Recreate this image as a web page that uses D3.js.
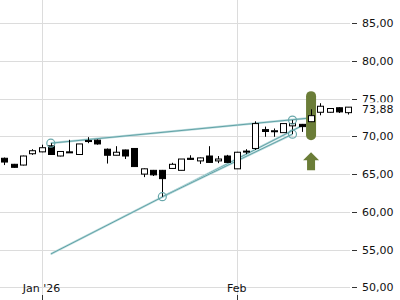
<!DOCTYPE html>
<html>
<head>
<meta charset="utf-8">
<script src="https://cdn.jsdelivr.net/npm/d3@7"></script>
<style>
  body { margin: 0; background: #fff; }
  svg { display: block; font-family: "DejaVu Sans", sans-serif; }
</style>
</head>
<body>
<script>
// trading day index, 0 = first session of Jan 2026
var days = d3.range(-4, 34)

var opens  = [67.1, 66.3, 66.2, 67.7, 67.95, 68.75, 67.4, 67.95, 67.6, 69.35, 69.5, 68.3, 67.5, 68.2, 68.4, 65.0, 65.5, 65.5, 65.75, 65.5, 67.1, 66.75, 67.4, 66.75, 67.4, 65.7, 67.95, 68.4, 70.9, 70.65, 70.5, 71.4, 71.6, 71.95, 73.2, 73.2, 73.8, 73.15]
var highs  = [67.2, 66.35, 67.45, 68.3, 68.9, 69.1, 68.05, 69.55, 69.0, 69.9, 69.6, 68.4, 68.7, 68.25, 68.45, 65.75, 65.55, 65.55, 66.5, 67.0, 67.5, 67.2, 68.7, 67.4, 67.55, 67.95, 68.3, 72.0, 71.3, 71.05, 71.75, 72.16, 71.65, 73.6, 74.4, 73.75, 73.85, 73.9]
var lows   = [66.2, 65.85, 66.15, 67.55, 67.9, 67.55, 67.35, 67.85, 67.6, 69.1, 68.9, 66.4, 67.5, 67.0, 66.0, 64.6, 64.75, 62.0, 65.7, 65.5, 66.9, 66.35, 66.5, 66.45, 66.5, 65.7, 67.65, 68.2, 69.95, 69.95, 70.5, 70.3, 70.6, 71.9, 72.8, 73.15, 73.1, 72.9]
var closes = [66.6, 65.9, 67.4, 68.1, 68.5, 67.6, 68.0, 67.85, 69.0, 69.45, 69.0, 67.5, 67.9, 67.4, 66.0, 65.7, 64.9, 64.4, 66.3, 67.0, 66.95, 67.15, 66.55, 67.0, 66.55, 67.9, 68.05, 71.7, 70.65, 70.75, 71.7, 71.7, 71.3, 72.75, 74.0, 73.7, 73.25, 73.88]

var yTicks = [50, 55, 60, 65, 70, 75, 80, 85]
var monthTicks = [0, 21]
var monthLabels = ["Jan '26", "Feb"]
var lastPrice = 73.88

// trend lines: [day, value] pairs
var trendUpper = [[1, 69.1], [29, 72.45]]
var trendLowA = [[1, 54.4], [28, 71.4]]
var trendLowB = [[13, 62.0], [27, 70.3]]
var anchors = [[1, 69.1], [13, 62.0], [27, 72.16], [27, 70.3]]

// signal marker
var signalDay = 29
var signalRange = [69.5, 76.0]

var width = 400, height = 300
var svg = d3.select("body").append("svg")
  .attr("width", width).attr("height", height)

var x = d3.scaleLinear().domain([0, 21]).range([41.5, 236.7])
var y = d3.scaleLinear().domain([50, 85]).range([287.2, 23.3])
var plotRight = 350

var candles = days.map(function(d, i) {
  return {d: d, o: opens[i], h: highs[i], l: lows[i], c: closes[i]}
})

// grid
svg.append("g").selectAll("line")
  .data(yTicks).enter().append("line")
  .attr("x1", 0).attr("x2", plotRight)
  .attr("y1", function(d) {return Math.round(y(d)) + 0.5})
  .attr("y2", function(d) {return Math.round(y(d)) + 0.5})
  .attr("stroke", "#dcdcdc")

svg.append("g").selectAll("line")
  .data(monthTicks).enter().append("line")
  .attr("x1", function(d) {return Math.round(x(d)) + 0.5})
  .attr("x2", function(d) {return Math.round(x(d)) + 0.5})
  .attr("y1", 0).attr("y2", 295)
  .attr("stroke", "#dcdcdc")

// bottom ticks + labels
svg.append("g").selectAll("line")
  .data(monthTicks).enter().append("line")
  .attr("x1", function(d) {return Math.round(x(d)) + 0.5})
  .attr("x2", function(d) {return Math.round(x(d)) + 0.5})
  .attr("y1", 295).attr("y2", 300)
  .attr("stroke", "#333")

svg.append("g").selectAll("text")
  .data(monthTicks).enter().append("text")
  .attr("x", function(d) {return x(d)})
  .attr("y", 292)
  .attr("text-anchor", "middle")
  .style("font-size", "11px")
  .attr("fill", "#111")
  .text(function(d, i) {return monthLabels[i]})

// right axis
var fmt = function(v) {return v.toFixed(2).replace(".", ",")}
var ra = svg.append("g")
ra.selectAll("line").data(yTicks).enter().append("line")
  .attr("x1", 352).attr("x2", 357)
  .attr("y1", function(d) {return Math.round(y(d)) + 0.5})
  .attr("y2", function(d) {return Math.round(y(d)) + 0.5})
  .attr("stroke", "#333")

// labels near the last price get cut off by its tag
var tagTop = y(lastPrice) - 5
svg.append("clipPath").attr("id", "aboveTag")
  .append("rect").attr("x", 355).attr("y", 0).attr("width", 45).attr("height", tagTop)
ra.selectAll("text").data(yTicks).enter().append("text")
  .attr("x", 362)
  .attr("y", function(d) {return y(d) + 4})
  .attr("clip-path", function(d) {return Math.abs(d - lastPrice) < 2 ? "url(#aboveTag)" : null})
  .style("font-size", "11px")
  .attr("fill", "#111")
  .text(fmt)

// last price tag
svg.append("text")
  .attr("x", 362).attr("y", y(lastPrice) + 6)
  .style("font-size", "11px")
  .attr("fill", "#111")
  .text(fmt(lastPrice))

// trend lines
var line = d3.line()
  .x(function(p) {return x(p[0])})
  .y(function(p) {return y(p[1])})
var tl = svg.append("g")
;[trendUpper, trendLowA, trendLowB].forEach(function(t) {
  tl.append("path").attr("d", line(t))
    .attr("fill", "none").attr("stroke", "#b9dadc").attr("stroke-width", 2.2)
  tl.append("path").attr("d", line(t))
    .attr("fill", "none").attr("stroke", "#62a3a7").attr("stroke-width", 1)
})

// signal bar
svg.append("rect")
  .attr("x", x(signalDay) - 5).attr("width", 10)
  .attr("y", y(signalRange[1])).attr("height", y(signalRange[0]) - y(signalRange[1]))
  .attr("rx", 5)
  .attr("fill", "#6b7d38")

// candles
var cg = svg.append("g").selectAll("g")
  .data(candles).enter().append("g")
cg.append("line")
  .attr("x1", function(d) {return Math.round(x(d.d)) + 0.5})
  .attr("x2", function(d) {return Math.round(x(d.d)) + 0.5})
  .attr("y1", function(d) {return y(d.h)})
  .attr("y2", function(d) {return y(d.l)})
  .attr("stroke", "#000")
cg.append("rect")
  .attr("x", function(d) {return Math.round(x(d.d)) - 2.5})
  .attr("width", 6)
  .attr("y", function(d) {return y(Math.max(d.o, d.c))})
  .attr("height", function(d) {return Math.max(1, Math.abs(y(d.o) - y(d.c)))})
  .attr("fill", function(d) {return d.c >= d.o ? "#fff" : "#000"})
  .attr("stroke", "#000")

// anchor circles
svg.append("g").selectAll("circle")
  .data(anchors).enter().append("circle")
  .attr("cx", function(p) {return x(p[0])})
  .attr("cy", function(p) {return y(p[1])})
  .attr("r", 4)
  .attr("fill", "none")
  .attr("stroke", "#6aa8ab")
  .attr("stroke-width", 1.2)

// up arrow under signal
var ax = x(signalDay), at = y(signalRange[0]) + 12
svg.append("path")
  .attr("d", "M" + ax + "," + at + " l8,8 l-4,0 l0,10 l-8,0 l0,-10 l-4,0 z")
  .attr("fill", "#6b7d38")
</script>
</body>
</html>
